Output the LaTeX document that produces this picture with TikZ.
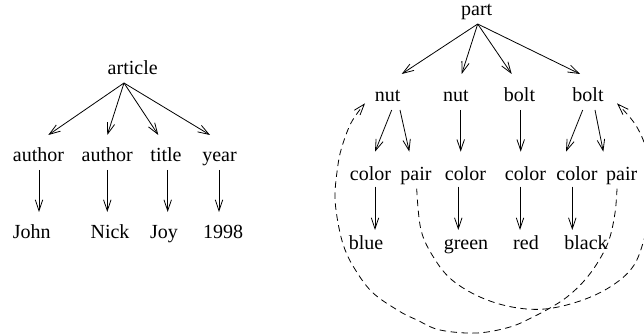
\documentclass[tikz,border=0pt]{standalone}
\usepackage{fontspec}
\setmainfont{Liberation Serif}
\usetikzlibrary{arrows.meta}
\begin{document}
\begin{tikzpicture}[x=1pt,y=-1pt,
  txt/.style={font=\fontsize{20}{24}\selectfont, inner sep=0pt, anchor=base},
  arr/.style={-{Straight Barb[length=11pt,width=7.5pt]}, line width=0.8pt},
  darr/.style={arr, dash pattern=on 6.5pt off 4.5pt}]
\useasboundingbox (0,0) rectangle (644,336);
% ---------- left tree ----------
\node[txt] (article) at (132.7,75) {article};
\node[txt] (au1) at (38.5,161.7) {author};
\node[txt] (au2) at (107.2,161.7) {author};
\node[txt] (title) at (166,161.7) {title};
\node[txt] (year) at (219.5,161.7) {year};
\node[txt] (john) at (31.8,238.3) {John};
\node[txt] (nick) at (110,238.3) {Nick};
\node[txt] (joy) at (164,238.3) {Joy};
\node[txt] (y98) at (223,238.3) {1998};
\coordinate (a0) at ([shift={(-8.7,8)}]article.base);
\draw[arr] (a0) -- ([shift={(9.8,-26.7)}]au1.base);
\draw[arr] (a0) -- ([shift={(0.1,-26.7)}]au2.base);
\draw[arr] (a0) -- ([shift={(-7.7,-26.7)}]title.base);
\draw[arr] (a0) -- ([shift={(-9.5,-26.7)}]year.base);
\draw[arr] ([shift={(0.5,8.3)}]au1.base) -- ([shift={(7.2,-26.3)}]john.base);
\draw[arr] ([shift={(0.1,8.3)}]au2.base) -- ([shift={(-2.7,-26.3)}]nick.base);
\draw[arr] ([shift={(1.7,8.3)}]title.base) -- ([shift={(3.7,-26.3)}]joy.base);
\draw[arr] ([shift={(-0.5,8.3)}]year.base) -- ([shift={(-4,-26.3)}]y98.base);
% ---------- right tree ----------
\node[txt] (part) at (476.7,16) {part};
\node[txt] (nut1) at (387.7,101.7) {nut};
\node[txt] (nut2) at (456,101.7) {nut};
\node[txt] (bolt1) at (519.5,101.7) {bolt};
\node[txt] (bolt2) at (588,101.7) {bolt};
\node[txt] (col1) at (370.5,180.7) {color};
\node[txt] (pair1) at (416,180.7) {pair};
\node[txt] (col2) at (465.5,180.7) {color};
\node[txt] (col3) at (525.5,180.7) {color};
\node[txt] (col4) at (577,180.7) {color};
\node[txt] (pair2) at (621.7,180.7) {pair};
\node[txt] (blue) at (366,249.5) {blue};
\node[txt] (green) at (466,249.5) {green};
\node[txt] (red) at (526,249.5) {red};
\node[txt] (black) at (586,249.5) {black};
\coordinate (r0) at ([shift={(1,8)}]part.base);
\draw[arr] (r0) -- ([shift={(14,-27.7)}]nut1.base);
\draw[arr] (r0) -- ([shift={(5.7,-27.7)}]nut2.base);
\draw[arr] (r0) -- ([shift={(-7.8,-27.7)}]bolt1.base);
\draw[arr] (r0) -- ([shift={(-8,-27.7)}]bolt2.base);
\draw[arr] ([shift={(4,8.3)}]nut1.base) -- ([shift={(4.5,-29)}]col1.base);
\draw[arr] ([shift={(12.3,8.3)}]nut1.base) -- ([shift={(-6.7,-29)}]pair1.base);
\draw[arr] ([shift={(4.7,8.3)}]nut2.base) -- ([shift={(-4.8,-29)}]col2.base);
\draw[arr] ([shift={(1.2,8.3)}]bolt1.base) -- ([shift={(-4.8,-29)}]col3.base);
\draw[arr] ([shift={(-5.3,8.3)}]bolt2.base) -- ([shift={(-11,-29)}]col4.base);
\draw[arr] ([shift={(7,8.3)}]bolt2.base) -- ([shift={(-18.4,-29)}]pair2.base);
\draw[arr] ([shift={(4.5,6)}]col1.base) -- ([shift={(9,-19.5)}]blue.base);
\draw[arr] ([shift={(-7.2,6)}]col2.base) -- ([shift={(-7.7,-19.5)}]green.base);
\draw[arr] ([shift={(-5.5,6)}]col3.base) -- ([shift={(-6,-19.5)}]red.base);
\draw[arr] ([shift={(-4.7,6)}]col4.base) -- ([shift={(-13.7,-19.5)}]black.base);
% ---------- dashed references ----------
\coordinate (p1s) at ([shift={(0.7,8)}]pair1.base);
\coordinate (p2s) at ([shift={(-4.7,8)}]pair2.base);
\coordinate (n1e) at ([shift={(-22.7,1.6)}]nut1.base);
\coordinate (b2e) at ([shift={(29,1.6)}]bolt2.base);
\draw[darr] plot[smooth, tension=0.6] coordinates {(p1s) (421,230) (434,258) (452,280) (480,297) (512,307) (545,309) (580,301) (610,287) (632,268) (643,243) (650,210) (651,175) (646,148) (635,124) (b2e)};
\draw[darr] plot[smooth, tension=0.6] coordinates {(p2s) (615,213) (609,240) (598,262) (584,281) (567,297) (550,308) (533,317) (510,327) (477,333) (440,330) (417,320) (399,311) (372,292) (353,266) (343,244) (337,217) (335,195) (337,172) (341,150) (351,123) (n1e)};
\end{tikzpicture}
\end{document}
